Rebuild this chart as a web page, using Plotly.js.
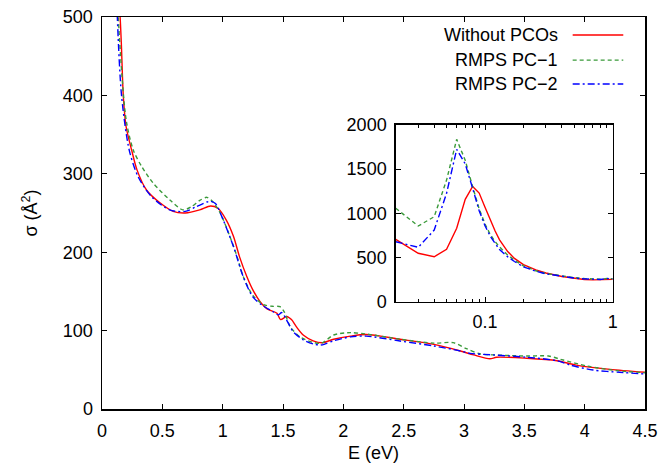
<!DOCTYPE html>
<html>
<head>
<meta charset="utf-8">
<script src="https://cdn.plot.ly/plotly-3.0.1.min.js"></script>
<style>html,body{margin:0;padding:0;background:#fff;}#plot{width:662px;height:465px;}</style>
</head>
<body>
<div id="plot"></div>
<script>
// Series names
const seriesNames = ["Without PCOs", "RMPS PC\u22121", "RMPS PC\u22122"];

// Main panel: E (eV) and sigma (Å^2)
const redE = [0.12,0.15,0.16,0.177,0.20,0.246,0.29,0.37,0.48,0.59,0.69,0.81,0.90,0.96,1.03,1.09,1.14,1.20,1.25,1.31,1.365,1.45,1.48,1.53,1.57,1.61,1.67,1.75,1.83,1.92,2.06,2.19,2.47,2.75,2.97,3.08,3.215,3.27,3.52,3.77,3.93,4.21,4.5];
const redS = [560,500,467,398,360,330,305,279,263,252,250,254,259,256,241,220,194,169,152,137,128,122,114,118,114,105,94,87,84.6,89,93,95,89,82.5,74,69,64,66,64.7,61.6,56,50.6,46.8];

const greenE = [0.12,0.135,0.20,0.26,0.33,0.425,0.56,0.67,0.74,0.81,0.87,0.92,0.98,1.06,1.12,1.17,1.25,1.34,1.41,1.475,1.51,1.56,1.64,1.75,1.82,1.92,2.06,2.19,2.47,2.75,2.91,3.02,3.13,3.24,3.52,3.70,3.80,4.02,4.27,4.5];
const greenS = [580,500,369,330,309,288,267,254,258,266,270,264,250,220,194,169,145,133,131,130.5,124,105,92,85,84,94.4,97.4,95.6,89,84,84.6,77,70.5,69,67.6,67.6,63.4,54.8,48.9,46.3];

const blueE = [0.115,0.127,0.163,0.226,0.30,0.41,0.56,0.69,0.78,0.87,0.895,0.94,1.005,1.09,1.17,1.25,1.34,1.42,1.46,1.49,1.53,1.585,1.67,1.75,1.81,1.85,1.92,2.06,2.19,2.47,2.75,2.97,3.05,3.24,3.52,3.77,3.88,4.07,4.29,4.5];
const blueS = [580,500,398,330,296,271,254,252,258,264,265,262,241,207,169,143,131,124,120,123,113.5,98.6,88,83,81.6,83,87,92,93,86.7,80.4,74,71,69,66,61.6,56,49.7,46.8,44.6];

// Inset: low-energy region (log E)
const insetE = [0.02,0.03,0.04,0.05,0.06,0.07,0.08,0.09,0.10,0.11,0.12,0.13,0.15,0.17,0.2,0.25,0.3,0.4,0.5,0.6,0.7,0.8,0.9,1.0];
const insetRed = [706,548,509,593,831,1159,1305,1230,1070,925,800,700,570,490,420,360,325,285,265,252,247,250,256,253];
const insetGreen = [1057,857,962,1377,1838,1600,1302,1050,880,760,680,620,530,470,405,350,320,290,272,262,256,255,262,260];
const insetBlue = [679,616,811,1227,1725,1560,1283,1030,860,740,660,590,510,455,395,345,315,285,268,258,252,252,263,258];

// Axis ticks
const mainXTicks = [0,0.5,1,1.5,2,2.5,3,3.5,4,4.5];
const mainYTicks = [0,100,200,300,400,500];
const insetXTicks = [0.1,1];
const insetXTickText = ["0.1","1"];
const insetXMinor = [0.03,0.04,0.05,0.06,0.07,0.08,0.09,0.2,0.3,0.4,0.5,0.6,0.7,0.8,0.9];
const insetYTicks = [0,500,1000,1500,2000];

const colors = ["#ff0000", "#3a9a3a", "#0000ff"];
const dashes = ["solid", "4px,3px", "7px,3px,2px,3px"];
const FONT = "Liberation Sans, Arial, Helvetica, sans-serif";
const FS = 18;

const traces = [
  {x: redE, y: redS, name: seriesNames[0], mode: "lines", line: {color: colors[0], width: 1.4, dash: dashes[0], shape: "spline", smoothing: 0.8}, xaxis: "x", yaxis: "y"},
  {x: greenE, y: greenS, name: seriesNames[1], mode: "lines", line: {color: colors[1], width: 1.4, dash: dashes[1], shape: "spline", smoothing: 0.8}, xaxis: "x", yaxis: "y"},
  {x: blueE, y: blueS, name: seriesNames[2], mode: "lines", line: {color: colors[2], width: 1.4, dash: dashes[2], shape: "spline", smoothing: 0.8}, xaxis: "x", yaxis: "y"},
  {x: insetE, y: insetRed, mode: "lines", line: {color: colors[0], width: 1.4, dash: dashes[0]}, xaxis: "x2", yaxis: "y2", showlegend: false},
  {x: insetE, y: insetGreen, mode: "lines", line: {color: colors[1], width: 1.4, dash: dashes[1]}, xaxis: "x2", yaxis: "y2", showlegend: false},
  {x: insetE, y: insetBlue, mode: "lines", line: {color: colors[2], width: 1.4, dash: dashes[2]}, xaxis: "x2", yaxis: "y2", showlegend: false}
];

// Legend (gnuplot style: text, then line sample)
const legRows = [0.954, 0.890, 0.829];
const annotations = seriesNames.map((n, i) => ({
  text: n, xref: "paper", yref: "paper", x: 0.8435, y: legRows[i], xanchor: "right", yanchor: "middle",
  showarrow: false, font: {family: FONT, size: FS, color: "#000"}
}));
const shapes = seriesNames.map((n, i) => ({
  type: "line", xref: "paper", yref: "paper", x0: 0.8668, x1: 0.960, y0: legRows[i], y1: legRows[i],
  line: {color: colors[i], width: 1.4, dash: dashes[i]}
}));

const axisCommon = {
  showline: true, linecolor: "#000", linewidth: 1.5, mirror: "allticks",
  ticks: "inside", ticklen: 5, tickcolor: "#000", tickwidth: 1,
  showgrid: false, zeroline: false,
  tickfont: {family: FONT, size: FS, color: "#000"}
};

const layout = {
  width: 662, height: 465,
  margin: {l: 102, r: 17, t: 17, b: 56},
  paper_bgcolor: "#fff", plot_bgcolor: "#fff",
  showlegend: false,
  font: {family: FONT, size: FS, color: "#000"},
  xaxis: Object.assign({}, axisCommon, {
    range: [0, 4.5], tickmode: "array", tickvals: mainXTicks, ticklabelstandoff: 5,
    title: {text: "E (eV)", font: {family: FONT, size: FS}, standoff: 6}
  }),
  yaxis: Object.assign({}, axisCommon, {
    range: [0, 500], tickmode: "array", tickvals: mainYTicks, ticklabelstandoff: 4,
    title: {text: "\u03c3 (\u00c5<sup>2</sup>)", font: {family: FONT, size: FS}, standoff: 20}
  }),
  xaxis2: Object.assign({}, axisCommon, {
    type: "log", range: [Math.log10(0.02), 0], domain: [0.541, 0.9405], anchor: "y2",
    tickmode: "array", tickvals: insetXTicks, ticktext: insetXTickText, ticklabelstandoff: 3,
    minor: {tickmode: "array", tickvals: insetXMinor, ticks: "inside", ticklen: 3, tickcolor: "#000", showgrid: false}
  }),
  yaxis2: Object.assign({}, axisCommon, {
    range: [0, 2000], domain: [0.2737, 0.7245], anchor: "x2",
    tickmode: "array", tickvals: insetYTicks, ticklabelstandoff: 4
  }),
  annotations: annotations,
  shapes: shapes
};

Plotly.newPlot("plot", traces, layout, {staticPlot: true, displayModeBar: false});
</script>
</body>
</html>
